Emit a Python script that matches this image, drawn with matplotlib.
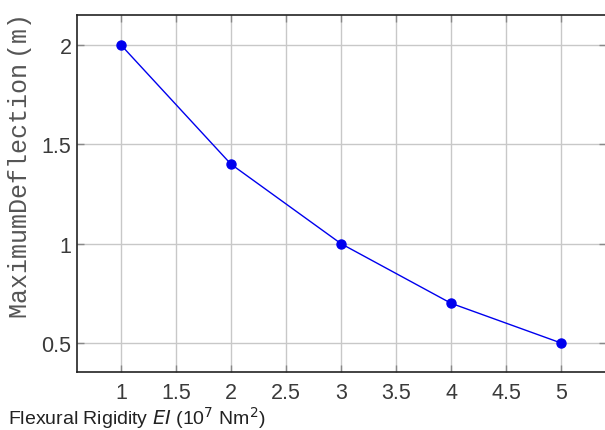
import matplotlib
matplotlib.use("Agg")
import matplotlib.pyplot as plt

# rigidity (10^7 Nm^2) vs max deflection (m)
rigidity = [1, 2, 3, 4, 5]
deflection = [2.0, 1.4, 1.0, 0.7, 0.5]
xticks = [1, 1.5, 2, 2.5, 3, 3.5, 4, 4.5, 5]
yticks = [0.5, 1, 1.5, 2]

fig = plt.figure(figsize=(6.05, 4.31), dpi=100)
ax = fig.add_axes([77/605, 58/431, 529/605, 357/431])

ax.plot(rigidity, deflection, color='#0000ee', lw=1, marker='o', ms=6.5,
        markerfacecolor='#0000ee', markeredgecolor='#0000ee', zorder=3)

ax.set_xlim(0.6, 5.409)
ax.set_ylim(0.354, 2.151)
ax.set_xticks(xticks)
ax.set_xticklabels(['1', '1.5', '2', '2.5', '3', '3.5', '4', '4.5', '5'])
ax.set_yticks(yticks)
ax.set_yticklabels(['0.5', '1', '1.5', '2'])
ax.grid(True, color='#c8c8c8', lw=1)
ax.set_axisbelow(True)

ax.tick_params(direction='in', length=5, width=1, color='#888888',
               top=True, right=True, labelsize=15.5, labelcolor='#3a3a3a')
for lab in ax.get_xticklabels() + ax.get_yticklabels():
    lab.set_fontfamily('Liberation Sans')
ax.tick_params(axis='x', pad=7)
ax.tick_params(axis='y', pad=4)
for s in ax.spines.values():
    s.set_color('#222222')
    s.set_linewidth(1.2)

fig.text(20/605, 1 - 166/431, 'MaximumDeflection\u2009(m)', rotation=90,
         family=['Liberation Mono', 'DejaVu Sans'], fontsize=18, color='#555555',
         ha='center', va='center')
fig.text(8/605, 1 - 418/431, r'Flexural Rigidity $\mathit{EI}$ (10$^7$ Nm$^2$)',
         family='Liberation Sans', fontsize=14, color='#222222',
         ha='left', va='center')

fig.savefig('out.png', dpi=100)
